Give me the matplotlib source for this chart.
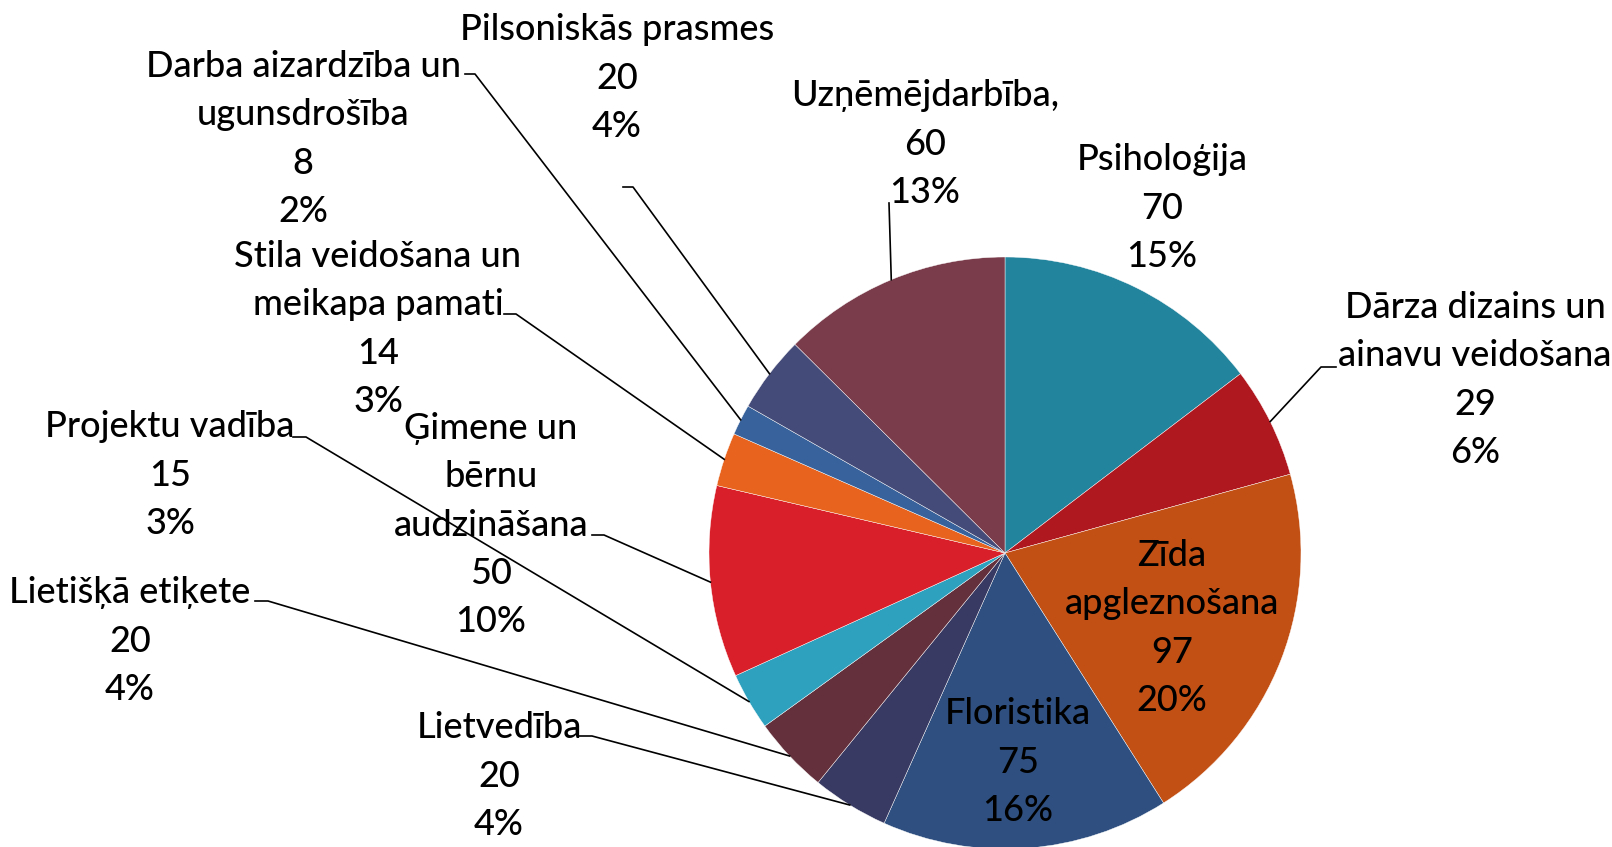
import numpy as np
import matplotlib
matplotlib.use('Agg')
import matplotlib.pyplot as plt

# Course categories and number of participants
categories = ['Psiholoģija', 'Dārza dizains un\nainavu veidošana', 'Zīda\napgleznošana',
              'Floristika', 'Lietvedība', 'Lietišķā etiķete', 'Projektu vadība',
              'Ģimene un\nbērnu\naudzināšana', 'Stila veidošana un\nmeikapa pamati',
              'Darba aizardzība un\nugunsdrošība', 'Pilsoniskās prasmes', 'Uzņēmējdarbība,']
values = [70, 29, 97, 75, 20, 20, 15, 50, 14, 8, 20, 60]
colors = ['#23849D', '#B01820', '#C25015', '#2E4F7F', '#393A63', '#64303C',
          '#2DA1BE', '#D91F29', '#E8641E', '#37629B', '#454B78', '#7A3C4B']

# layout (pixel coords, y from top): label block centres and leader elbows
W, H = 1612, 847
CENTER = (1005, 553)
RADIUS = 296
label_pos = [(1162, 208), (1475, 380), (1172, 628), (1018, 762), (499, 776), (130, 641),
             (170, 475), (491, 525), (378, 329), (303, 139), (617, 78), (925, 144)]
# elbow = point where the leader meets the short horizontal tick next to the label (None = no leader)
elbows = [None, (1321, 367), None, None, (592, 736), (268, 601), (306, 437),
          (604, 535), (516, 314), (475, 74), (633, 187), (889, 203)]
ticks = [None, (1336, 367), None, None, (579, 736), (255, 601), (293, 437),
         (592, 535), (504, 314), (465, 74), (623, 187), None]

plt.rcParams['font.family'] = ['Lato', 'DejaVu Sans']

fig = plt.figure(figsize=(W / 100, H / 100), dpi=100)
ax = fig.add_axes([0, 0, 1, 1])

wedges, _ = ax.pie(values, colors=colors, startangle=90, counterclock=False,
                   center=(CENTER[0], H - CENTER[1]), radius=RADIUS,
                   wedgeprops=dict(edgecolor='white', linewidth=0.3))

total = sum(values)
for i, w in enumerate(wedges):
    pct = round(values[i] / total * 100)
    txt = f'{categories[i]}\n{values[i]}\n{pct}%'
    lx, ly = label_pos[i]
    ax.text(lx, H - ly, txt, ha='center', va='center', multialignment='center',
            fontsize=26, fontweight='medium', linespacing=1.57, color='black')
    if elbows[i] is not None:
        ang = np.deg2rad((w.theta1 + w.theta2) / 2)
        ax0 = CENTER[0] + RADIUS * np.cos(ang)
        ay0 = H - CENTER[1] + RADIUS * np.sin(ang)
        xs = [ax0, elbows[i][0]]
        ys = [ay0, H - elbows[i][1]]
        if ticks[i] is not None:
            xs.append(ticks[i][0])
            ys.append(H - ticks[i][1])
        ax.plot(xs, ys, color='black', lw=1.2)

ax.set_xlim(0, W)
ax.set_ylim(0, H)
ax.set_aspect('equal')
ax.axis('off')
fig.savefig('out.png', dpi=100, facecolor='white')
